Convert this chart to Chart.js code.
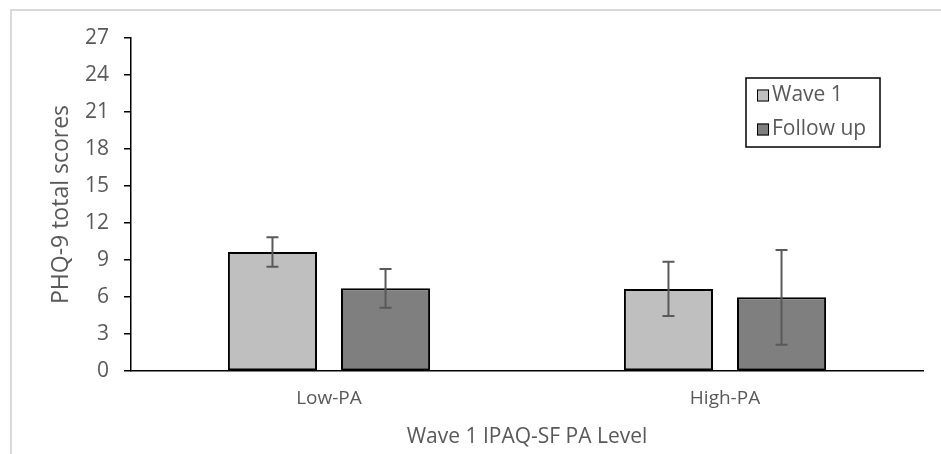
<!DOCTYPE html>
<html>
<head>
<meta charset="utf-8">
<script src="https://cdn.jsdelivr.net/npm/chart.js@4.4.1/dist/chart.umd.min.js"></script>
<style>
  html, body { margin: 0; padding: 0; background: #fff; }
  #wrap { position: relative; width: 941px; height: 454px; }
  #frame { position: absolute; left: 10px; top: 9px; right: 0; bottom: 0;
           border-top: 2px solid #d9d9d9; border-left: 2px solid #d9d9d9; }
  canvas { position: absolute; left: 0; top: 0; }
</style>
</head>
<body>
<div id="wrap">
  <div id="frame"></div>
  <canvas id="phqChart" width="941" height="454"></canvas>
</div>
<script>
// Data
const categories = ['Low-PA', 'High-PA'];
const seriesNames = ['Wave 1', 'Follow up'];
const wave1Means = [9.65, 6.65];
const followUpMeans = [6.7, 5.97];
const wave1Errors = [1.2, 2.2];
const followUpErrors = [1.58, 3.84];
const yTicks = [0, 3, 6, 9, 12, 15, 18, 21, 24, 27];

const textGrey = '#595959';
const fontFamily = '"Open Sans", sans-serif';

// Error bars, drawn on top of the bars using the y scale
const errorBars = {
    id: 'errorBars',
    afterDatasetsDraw(chart) {
        const ctx = chart.ctx;
        const yScale = chart.scales.y;
        ctx.save();
        ctx.strokeStyle = '#595959';
        ctx.lineWidth = 2;
        chart.data.datasets.forEach((ds, i) => {
            const meta = chart.getDatasetMeta(i);
            meta.data.forEach((bar, j) => {
                const v = ds.data[j];
                const e = ds.errors[j];
                const yTop = yScale.getPixelForValue(v + e);
                const yBot = yScale.getPixelForValue(v - e);
                ctx.beginPath();
                ctx.moveTo(bar.x, yTop);
                ctx.lineTo(bar.x, yBot);
                ctx.moveTo(bar.x - 6, yTop);
                ctx.lineTo(bar.x + 6, yTop);
                ctx.moveTo(bar.x - 6, yBot);
                ctx.lineTo(bar.x + 6, yBot);
                ctx.stroke();
            });
        });
        ctx.restore();
    }
};

// Boxed legend inside the plot, like the original
const boxLegend = {
    id: 'boxLegend',
    afterDraw(chart) {
        const ctx = chart.ctx;
        const x = 746, y = 78, w = 134, h = 69;
        ctx.save();
        ctx.fillStyle = '#fff';
        ctx.fillRect(x, y, w, h);
        ctx.strokeStyle = '#000';
        ctx.lineWidth = 1.5;
        ctx.strokeRect(x, y, w, h);
        ctx.font = '21px ' + fontFamily;
        ctx.textBaseline = 'middle';
        chart.data.datasets.forEach((ds, i) => {
            const cy = y + 17.5 + i * 34;
            ctx.fillStyle = ds.backgroundColor;
            ctx.fillRect(x + 11, cy - 6, 12, 12);
            ctx.lineWidth = 1;
            ctx.strokeStyle = '#000';
            ctx.strokeRect(x + 11.5, cy - 5.5, 11, 11);
            ctx.fillStyle = textGrey;
            ctx.fillText(ds.label, x + 26, cy);
        });
        ctx.restore();
    }
};

const ctx = document.getElementById('phqChart').getContext('2d');
new Chart(ctx, {
    type: 'bar',
    data: {
        labels: categories,
        datasets: [
            {
                label: seriesNames[0],
                data: wave1Means,
                errors: wave1Errors,
                backgroundColor: '#bfbfbf',
                borderColor: '#000',
                borderWidth: 2,
                borderSkipped: false
            },
            {
                label: seriesNames[1],
                data: followUpMeans,
                errors: followUpErrors,
                backgroundColor: '#7f7f7f',
                borderColor: '#000',
                borderWidth: 2,
                borderSkipped: false
            }
        ]
    },
    options: {
        responsive: false,
        animation: false,
        devicePixelRatio: 1,
        categoryPercentage: 0.571,
        barPercentage: 0.788,
        layout: { padding: { top: 38, right: 18, bottom: 0, left: 0 } },
        plugins: {
            legend: { display: false },
            tooltip: { enabled: false }
        },
        scales: {
            x: {
                grid: { display: false },
                border: { display: true, color: '#000', width: 1.5 },
                ticks: {
                    color: textGrey,
                    padding: 8,
                    font: { family: fontFamily, size: 19 }
                },
                title: {
                    display: true,
                    text: 'Wave 1 IPAQ-SF PA Level',
                    color: textGrey,
                    padding: { top: 0, bottom: 4 },
                    font: { family: fontFamily, size: 21 }
                },
                afterFit(scale) { scale.height = 83; }
            },
            y: {
                min: 0,
                max: 27,
                afterBuildTicks(scale) {
                    scale.ticks = yTicks.map(v => ({ value: v }));
                },
                grid: {
                    display: true,
                    drawOnChartArea: false,
                    drawTicks: true,
                    tickLength: 7,
                    color: '#000',
                    lineWidth: 1.5
                },
                border: { display: true, color: '#000', width: 1.5 },
                ticks: {
                    color: textGrey,
                    padding: 15,
                    font: { family: fontFamily, size: 21 }
                },
                title: {
                    display: true,
                    text: 'PHQ-9 total scores',
                    color: textGrey,
                    padding: { top: 48, bottom: 0 },
                    font: { family: fontFamily, size: 23 }
                },
                afterFit(scale) { scale.width = 131; }
            }
        }
    },
    plugins: [errorBars, boxLegend]
});
</script>
</body>
</html>
